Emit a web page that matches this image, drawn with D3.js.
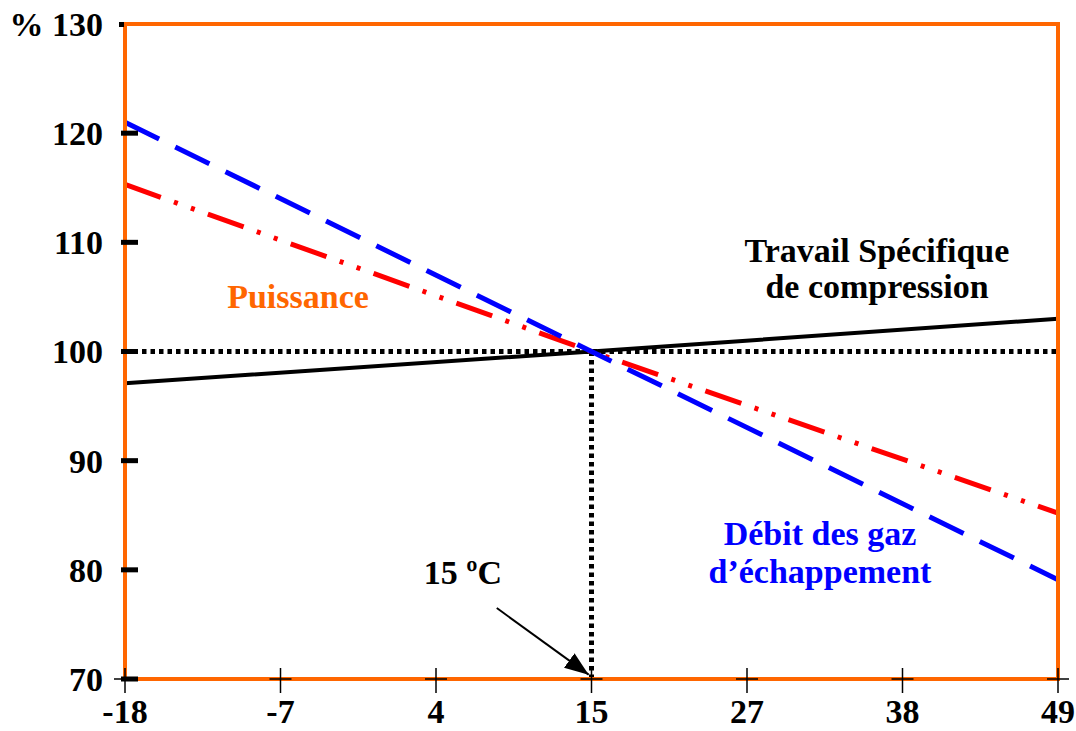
<!DOCTYPE html>
<html lang="fr">
<head>
  <meta charset="UTF-8">
  <title>Influence de la température ambiante</title>
  <style>
    *{ margin:0; padding:0; box-sizing:border-box }
    html, body { width:100%; height:100%; background:#fff; overflow:hidden }
    svg { position:absolute; top:0; left:0 }
    text { font-family:"Liberation Serif", "Times New Roman", serif; font-weight:bold; font-size:34px }
  </style>
  <script src="https://cdn.jsdelivr.net/npm/d3@7/dist/d3.min.js"></script>
</head>
<body>
  <svg id="chart"></svg>
  <script>
    // data
    const xTicks = [-18, -7, 4, 15, 27, 38, 49];
    const yTicks = [70, 80, 90, 100, 110, 120, 130];
    const temps      = [-18, 15, 49];
    const travail    = [97.1, 100, 103.0];
    const puissance  = [115.3, 100, 85.2];
    const debit      = [121.0, 100, 79.1];
    const refTemp = 15, refPct = 100;

    const W = 1076, H = 731,
          L = 125, R = 1058, T = 24, B = 679;

    const svg = d3.select("#chart").attr("width", W).attr("height", H);

    // x ticks are drawn evenly spaced in the original
    const step = (R - L) / (xTicks.length - 1);
    const x = d3.scaleLinear().domain(xTicks).range(xTicks.map((d, i) => L + i * step));
    const y = d3.scaleLinear().domain([70, 130]).range([B, T]);

    const line = d3.line().x(d => x(d[0])).y(d => y(d[1]));
    const pts = vals => temps.map((t, i) => [t, vals[i]]);

    // reference dotted lines
    svg.append("path")
      .attr("d", line([[xTicks[0], refPct], [xTicks[xTicks.length-1], refPct]]))
      .attr("stroke", "#000").attr("stroke-width", 5).attr("stroke-dasharray", "4.5,4").attr("fill", "none");
    svg.append("path")
      .attr("d", line([[refTemp, refPct], [refTemp, 70]]))
      .attr("stroke", "#000").attr("stroke-width", 5).attr("stroke-dasharray", "4.5,4").attr("fill", "none");

    // series
    svg.append("path").attr("d", line(pts(travail)))
      .attr("stroke", "#000").attr("stroke-width", 4).attr("fill", "none");
    svg.append("path").attr("d", line(pts(puissance)))
      .attr("stroke", "#ff0000").attr("stroke-width", 5).attr("fill", "none")
      .attr("stroke-dasharray", "38,14,4,14,4,14");
    svg.append("path").attr("d", line(pts(debit)))
      .attr("stroke", "#0000ff").attr("stroke-width", 5).attr("fill", "none")
      .attr("stroke-dasharray", "38,18");

    // frame
    svg.append("rect")
      .attr("x", L).attr("y", T).attr("width", R - L).attr("height", B - T)
      .attr("fill", "none").attr("stroke", "#ff6600").attr("stroke-width", 4);

    // y axis: thick short ticks inside the frame
    svg.append("g").selectAll("rect").data(yTicks.slice(0, -1)).join("rect")
      .attr("x", L - 4).attr("y", d => y(d) - 2.5).attr("width", 17).attr("height", 5)
      .attr("fill", "#000");
    svg.append("rect").attr("x", L - 6).attr("y", y(130) - 2).attr("width", 5).attr("height", 5).attr("fill", "#000");
    svg.append("g").selectAll("text").data(yTicks).join("text")
      .attr("x", 103).attr("y", d => y(d)).attr("dy", "0.35em")
      .attr("text-anchor", "end")
      .text(d => d === 130 ? "% 130" : d);

    // x axis: thin crosses
    const xg = svg.append("g").attr("stroke", "#000").attr("stroke-width", 1.5);
    xg.selectAll("line.v").data(xTicks).join("line").attr("class", "v")
      .attr("x1", d => x(d)).attr("x2", d => x(d)).attr("y1", B - 11).attr("y2", B + 14);
    xg.selectAll("line.h").data(xTicks).join("line").attr("class", "h")
      .attr("x1", d => x(d) - 11).attr("x2", d => x(d) + 11).attr("y1", B).attr("y2", B);
    svg.append("g").selectAll("text").data(xTicks).join("text")
      .attr("x", d => x(d)).attr("y", 723)
      .attr("text-anchor", "middle")
      .text(d => d);

    // labels
    const label = (tx, ty, lines, color, lh = 36) => {
      const t = svg.append("text").attr("fill", color).attr("text-anchor", "middle");
      lines.forEach((s, i) => t.append("tspan").attr("x", tx).attr("y", ty + i * lh).text(s));
    };
    label(877, 262, ["Travail Spécifique", "de compression"], "#000");
    label(298, 308, ["Puissance"], "#ff6600");
    label(820, 545, ["Débit des gaz", "d’échappement"], "#0000ff", 38);
    label(463, 584, ["15 ºC"], "#000");

    // arrow to 15 °C
    svg.append("defs").append("marker")
      .attr("id", "arrow").attr("viewBox", "0 0 10 10").attr("refX", 10).attr("refY", 5)
      .attr("markerWidth", 12).attr("markerHeight", 9).attr("markerUnits", "strokeWidth")
      .attr("orient", "auto").attr("preserveAspectRatio", "none")
      .append("path").attr("d", "M0,0L10,5L0,10z").attr("fill", "#000");
    svg.append("path")
      .attr("d", line([[8.3, 76.5], [14.8, 70.4]]))
      .attr("stroke", "#000").attr("stroke-width", 2).attr("fill", "none")
      .attr("marker-end", "url(#arrow)");
  </script>
</body>
</html>
